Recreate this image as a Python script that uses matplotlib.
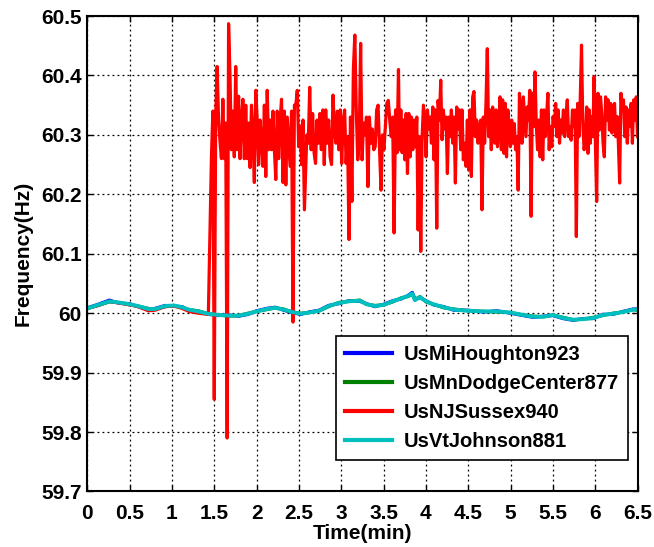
import numpy as np
import matplotlib
matplotlib.use("Agg")
import matplotlib.pyplot as plt
from matplotlib.ticker import FuncFormatter

# slow common trend seen by all stations (min, Hz)
base_time = [0.00, 0.13, 0.26, 0.37, 0.50, 0.60, 0.72, 0.80, 0.92, 1.02,
             1.12, 1.20, 1.31, 1.43, 1.55, 1.67, 1.79, 1.90, 2.00, 2.12,
             2.22, 2.32, 2.42, 2.52, 2.62, 2.74, 2.85, 2.97, 3.09, 3.22,
             3.30, 3.40, 3.50, 3.61, 3.71, 3.79, 3.84, 3.87, 3.93, 4.00,
             4.09, 4.21, 4.33, 4.50, 4.68, 4.84, 5.00, 5.15, 5.27, 5.39,
             5.50, 5.62, 5.74, 5.86, 5.98, 6.09, 6.21, 6.33, 6.45, 6.50]

blue_freq = [60.009, 60.015, 60.022, 60.017, 60.016, 60.011, 60.006, 60.008, 60.013, 60.012,
             60.011, 60.005, 60.002, 59.998, 59.996, 59.997, 59.995, 59.998, 60.004, 60.008,
             60.010, 60.005, 60.001, 59.998, 60.002, 60.005, 60.013, 60.016, 60.021, 60.020,
             60.016, 60.011, 60.015, 60.021, 60.024, 60.030, 60.035, 60.024, 60.026, 60.021,
             60.014, 60.011, 60.005, 60.005, 60.002, 60.004, 60.000, 59.996, 59.993, 59.995,
             59.996, 59.991, 59.988, 59.991, 59.991, 59.998, 59.998, 60.003, 60.007, 60.007]

green_freq = [60.008, 60.013, 60.019, 60.018, 60.014, 60.012, 60.008, 60.007, 60.011, 60.013,
              60.009, 60.006, 60.004, 59.999, 59.997, 59.995, 59.996, 60.000, 60.003, 60.006,
              60.009, 60.007, 60.002, 60.000, 60.001, 60.004, 60.011, 60.018, 60.020, 60.022,
              60.015, 60.013, 60.014, 60.019, 60.026, 60.028, 60.032, 60.023, 60.028, 60.019,
              60.015, 60.009, 60.007, 60.004, 60.003, 60.002, 60.001, 59.997, 59.995, 59.994,
              59.997, 59.993, 59.989, 59.990, 59.993, 59.996, 60.000, 60.002, 60.006, 60.005]

cyan_freq = [60.008, 60.014, 60.020, 60.018, 60.015, 60.012, 60.007, 60.007, 60.012, 60.013,
             60.010, 60.006, 60.003, 59.999, 59.997, 59.996, 59.996, 59.999, 60.003, 60.007,
             60.009, 60.006, 60.002, 59.999, 60.001, 60.004, 60.012, 60.017, 60.020, 60.021,
             60.015, 60.012, 60.014, 60.020, 60.025, 60.029, 60.033, 60.022, 60.027, 60.020,
             60.015, 60.010, 60.006, 60.004, 60.003, 60.003, 60.001, 59.997, 59.994, 59.994,
             59.997, 59.992, 59.989, 59.990, 59.992, 59.997, 59.999, 60.002, 60.006, 60.006]

# NJ station before it jumps up
red_pre_time = base_time[:14]
red_pre_freq = [60.008, 60.013, 60.020, 60.017, 60.014, 60.011, 60.004, 60.005, 60.011, 60.012,
                60.008, 60.003, 60.000, 59.998]

# NJ station after the jump, read piece by piece (start, end, samples)
red_a_span = (1.466, 2.565)
red_a = [60.26, 60.34, 59.855, 60.33, 60.415, 60.325, 60.29, 60.26, 60.36, 60.26, 60.32,
         59.79, 60.487, 60.40, 60.275, 60.34, 60.263, 60.415, 60.275, 60.365, 60.26, 60.325,
         60.36, 60.26, 60.35, 60.26, 60.32, 60.245, 60.35, 60.30, 60.22, 60.375, 60.325,
         60.25, 60.325, 60.29, 60.247, 60.35, 60.23, 60.375, 60.275, 60.325, 60.275, 60.34,
         60.275, 60.225, 60.34, 60.26, 60.325, 60.36, 60.22, 60.34, 60.216, 60.33, 60.29,
         60.247, 60.34, 59.985, 60.35, 60.35, 60.375, 60.28, 60.315, 60.25, 60.325, 60.174]

red_b_span = (2.593, 3.676)
red_b = [60.30, 60.286, 60.38, 60.275, 60.336, 60.27, 60.252, 60.325, 60.286, 60.336,
         60.275, 60.342, 60.25, 60.342, 60.286, 60.325, 60.263, 60.25, 60.367, 60.31,
         60.286, 60.34, 60.275, 60.342, 60.252, 60.325, 60.342, 60.252, 60.297, 60.124,
         60.33, 60.188, 60.41, 60.468, 60.342, 60.258, 60.286, 60.454, 60.258, 60.32,
         60.30, 60.33, 60.213, 60.33, 60.286, 60.31, 60.275, 60.28, 60.342, 60.35,
         60.275, 60.207, 60.30, 60.275, 60.314, 60.353, 60.358, 60.325, 60.297, 60.33,
         60.135, 60.342, 60.27, 60.41]

red_c_span = (3.688, 4.804)
red_c = [60.275, 60.342, 60.27, 60.325, 60.258, 60.336, 60.235, 60.336, 60.263, 60.33,
         60.275, 60.325, 60.28, 60.33, 60.14, 60.297, 60.104, 60.297, 60.35, 60.325,
         60.263, 60.342, 60.31, 60.33, 60.286, 60.347, 60.258, 60.342, 60.143, 60.358,
         60.325, 60.392, 60.292, 60.342, 60.31, 60.33, 60.235, 60.33, 60.297, 60.342,
         60.286, 60.33, 60.219, 60.347, 60.31, 60.342, 60.275, 60.342, 60.258, 60.286,
         60.247, 60.325, 60.241, 60.342, 60.23, 60.364, 60.373, 60.297, 60.325, 60.286,
         60.31, 60.325, 60.174, 60.33, 60.286, 60.353, 60.445, 60.297, 60.342, 60.275,
         60.347, 60.325]

red_d_span = (4.815, 5.930)
red_d = [60.286, 60.342, 60.280, 60.308, 60.364, 60.275, 60.359, 60.269, 60.353, 60.263,
         60.342, 60.314, 60.280, 60.325, 60.286, 60.319, 60.275, 60.297, 60.207, 60.370,
         60.342, 60.286, 60.364, 60.331, 60.297, 60.347, 60.325, 60.375, 60.163, 60.370,
         60.314, 60.406, 60.319, 60.275, 60.325, 60.263, 60.342, 60.258, 60.342, 60.297,
         60.331, 60.370, 60.275, 60.314, 60.280, 60.331, 60.314, 60.353, 60.297, 60.342,
         60.286, 60.325, 60.303, 60.342, 60.297, 60.331, 60.359, 60.297, 60.314, 60.291,
         60.342, 60.314, 60.342, 60.129, 60.353, 60.297, 60.359, 60.451, 60.319, 60.275,
         60.291, 60.347, 60.269, 60.342]

red_e_span = (5.942, 6.500)
red_e = [60.286, 60.331, 60.297, 60.398, 60.286, 60.188, 60.370, 60.308, 60.364, 60.336,
         60.286, 60.263, 60.364, 60.325, 60.359, 60.308, 60.353, 60.303, 60.342, 60.353,
         60.297, 60.331, 60.286, 60.219, 60.370, 60.342, 60.359, 60.297, 60.347, 60.286,
         60.342, 60.314, 60.353, 60.286, 60.359, 60.325, 60.364, 60.297]

labels = ["UsMiHoughton923", "UsMnDodgeCenter877", "UsNJSussex940", "UsVtJohnson881"]
colors = ["#0000FF", "#008000", "#FF0000", "#00BFBF"]

x_ticks = np.arange(0, 6.51, 0.5)
y_ticks = np.arange(59.7, 60.51, 0.1)


def red_series():
    t = list(red_pre_time)
    f = list(red_pre_freq)
    for span, vals in [(red_a_span, red_a), (red_b_span, red_b), (red_c_span, red_c),
                       (red_d_span, red_d), (red_e_span, red_e)]:
        t.extend(np.linspace(span[0], span[1], len(vals)))
        f.extend(vals)
    return t, f


def main():
    plt.rcParams["font.family"] = ["Liberation Sans", "DejaVu Sans"]
    plt.rcParams["font.weight"] = "bold"

    fig = plt.figure(figsize=(6.54, 5.47), dpi=100)
    ax = fig.add_axes([0.1335, 0.1015, 0.8413, 0.8692])

    red_t, red_f = red_series()
    lw = 2.3
    ax.plot(base_time, blue_freq, color=colors[0], lw=lw, label=labels[0])
    ax.plot(base_time, green_freq, color=colors[1], lw=lw, label=labels[1])
    ax.plot(red_t, red_f, color=colors[2], lw=lw, label=labels[2])
    ax.plot(base_time, cyan_freq, color=colors[3], lw=2.8, label=labels[3])

    ax.set_xlim(0, 6.5)
    ax.set_ylim(59.7, 60.5)
    ax.set_xticks(x_ticks)
    ax.set_yticks(y_ticks)
    fmt = FuncFormatter(lambda v, p: "%g" % round(v, 2))
    ax.xaxis.set_major_formatter(fmt)
    ax.yaxis.set_major_formatter(fmt)
    ax.tick_params(direction="in", length=4, width=1, labelsize=15,
                   top=True, right=True)
    ax.tick_params(axis="x", pad=9)
    ax.tick_params(axis="y", pad=4)
    for lab in ax.get_xticklabels() + ax.get_yticklabels():
        lab.set_fontweight("bold")

    ax.grid(True, color="black", linestyle=(0, (1.5, 2.5)), linewidth=0.9)
    for sp in ax.spines.values():
        sp.set_linewidth(1.5)

    ax.set_xlabel("Time(min)", fontsize=15, fontweight="bold", labelpad=1)
    ax.set_ylabel("Frequency(Hz)", fontsize=15, fontweight="bold", labelpad=6)

    leg = ax.legend(loc="lower right", bbox_to_anchor=(0.983, 0.066), borderaxespad=0,
                    fancybox=False, framealpha=1, edgecolor="black",
                    prop={"size": 14.5, "weight": "bold"},
                    handlelength=2.3, handletextpad=0.6, labelspacing=0.5,
                    borderpad=0.45)
    leg.get_frame().set_linewidth(1.2)
    for line in leg.get_lines():
        line.set_linewidth(3)

    fig.savefig("out.png", dpi=100)


if __name__ == "__main__":
    main()
